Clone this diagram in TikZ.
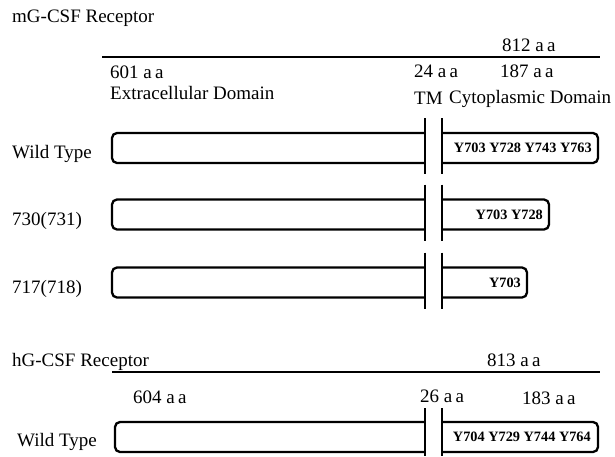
\documentclass[tikz,border=0pt]{standalone}
\usepackage{fontspec}
\setmainfont{Liberation Serif}
\usetikzlibrary{positioning}

\begin{document}
\begin{tikzpicture}[x=1pt, y=-1pt, every node/.style={font=\fontsize{19}{21}\selectfont, inner sep=0pt},
  rowbox/.style={line width=2.3pt, rounded corners=5pt},
  tmbar/.style={line width=2.8pt},
  tyr/.style={font=\fontsize{14.3}{16}\selectfont\bfseries, anchor=east}]
\useasboundingbox (0,0) rectangle (615,456);
% mouse receptor
\node[anchor=west] (mhead) at (12,18) {mG-CSF Receptor};
\draw[line width=2.4pt] (102,57) coordinate (mstart) -- (600,57) coordinate (mend);
\node[anchor=west] (mall) at (502,45) {812 a\,a};
\node[anchor=west] (mext) at (110,72) {601 a\,a};
\node[anchor=west] (mtm) at (414,71) {24 a\,a};
\node[anchor=west] (mcyt) at (500,71) {187 a\,a};
\node[anchor=west] (extlab) at (110,93) {Extracellular Domain};
\node[anchor=west] (tmlab) at (414,98) {TM};
\node[right=6pt of tmlab.east, anchor=west, yshift=-1pt] (cytlab) {Cytoplasmic Domain};
\foreach \y/\lab/\xr/\tyrs [count=\i] in {148/{Wild Type}/598/{Y703 Y728 Y743 Y763},
    214.5/{730(731)}/549/{Y703 Y728}, 282.5/{717(718)}/527/{Y703}} {
  \node[anchor=west] (mrow\i) at (12,\y+6) {\lab};
  \draw[rowbox] (425,\y-15) -- (112,\y-15) -- (112,\y+15) -- (425,\y+15);
  \draw[rowbox] (442,\y-15) -- (\xr,\y-15) -- (\xr,\y+15) -- (442,\y+15);
  \draw[tmbar] (425,\y-30) -- (425,\y+26);
  \draw[tmbar] (442,\y-30) -- (442,\y+26);
  \node[tyr] (mtyr\i) at (\xr-6,\y) {\tyrs};
}
% human receptor
\node[anchor=west] (hhead) at (12,362) {hG-CSF Receptor};
\draw[line width=2.4pt] (112,372) coordinate (hstart) -- (600,372) coordinate (hend);
\node[anchor=west] (hall) at (487,360) {813 a\,a};
\node[anchor=west] (hext) at (133,397) {604 a\,a};
\node[anchor=west] (htm) at (420,396) {26 a\,a};
\node[anchor=west] (hcyt) at (522,398) {183 a\,a};
\node[anchor=west] (hrow) at (17,442) {Wild Type};
\draw[rowbox] (425,422) -- (115,422) -- (115,452) -- (425,452);
\draw[rowbox] (442,422) -- (598,422) -- (598,452) -- (442,452);
\draw[tmbar] (425,408) -- (425,456);
\draw[tmbar] (442,408) -- (442,456);
\node[tyr] (htyr) at (591,437) {Y704 Y729 Y744 Y764};
\end{tikzpicture}
\end{document}
